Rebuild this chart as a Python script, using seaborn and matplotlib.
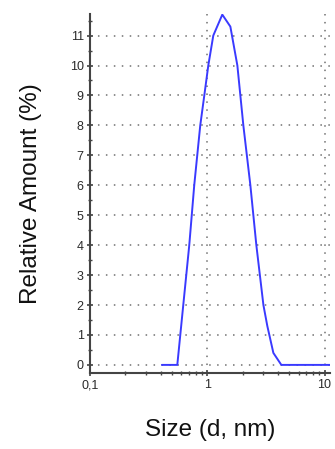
import matplotlib
matplotlib.use("Agg")
import matplotlib.pyplot as plt
import matplotlib.ticker as mticker
import seaborn as sns
import pandas as pd

# Data
size_nm = [0.41, 0.555, 0.624, 0.702, 0.774, 0.871, 0.943, 1.02, 1.125, 1.343,
           1.573, 1.805, 2.03, 2.33, 2.62, 3.01, 3.25, 3.66, 4.28, 11.1]
rel_amount = [0.0, 0.0, 2.0, 4.0, 6.0, 8.0, 9.0, 10.0, 11.0, 11.7,
              11.3, 10.0, 8.0, 6.0, 4.0, 2.0, 1.3, 0.4, 0.0, 0.0]
x_ticks = [0.1, 1, 10]
x_tick_labels = ["0,1", "1", "10"]
y_ticks = list(range(0, 12))
y_tick_labels = [str(v) for v in y_ticks]

df = pd.DataFrame({"size": size_nm, "amount": rel_amount})

sns.set_style("white")
plt.rcParams['font.family'] = ['Liberation Sans', 'DejaVu Sans']

fig = plt.figure(figsize=(3.35, 4.49), dpi=100)
ax = fig.add_axes([0.2687, 0.1693, 0.716, 0.7995])

sns.lineplot(data=df, x="size", y="amount", ax=ax, color="#3a3aff",
             linewidth=1.4, sort=False)

ax.set_xscale("log")
ax.set_xlim(0.1, 11.1)
ax.set_ylim(-0.27, 11.72)

ax.xaxis.set_major_locator(mticker.FixedLocator(x_ticks))
ax.xaxis.set_major_formatter(mticker.FixedFormatter(x_tick_labels))
ax.xaxis.set_minor_locator(mticker.LogLocator(base=10, subs=range(2, 10)))
ax.xaxis.set_minor_formatter(mticker.NullFormatter())
ax.yaxis.set_major_locator(mticker.FixedLocator(y_ticks))
ax.yaxis.set_major_formatter(mticker.FixedFormatter(y_tick_labels))
ax.yaxis.set_minor_locator(mticker.MultipleLocator(0.5))

ax.grid(True, which="major", color="#707070", linestyle=(0, (1, 4.2)), linewidth=1.1)

for s in ["top", "right"]:
    ax.spines[s].set_visible(False)
for s in ["left", "bottom"]:
    ax.spines[s].set_color("#444444")
    ax.spines[s].set_linewidth(1.5)

ax.tick_params(which="major", direction="inout", length=5, width=1.2,
               color="#444444", labelsize=9, labelcolor="#2a2a2a", pad=2)
ax.tick_params(which="minor", direction="inout", length=3.5, width=1.0,
               color="#444444")
ax.tick_params(axis="x", which="both", bottom=True)
ax.tick_params(axis="y", which="both", left=True)

ax.set_xlabel("Size (d, nm)", fontsize=17.5, labelpad=20, color="#111111")
ax.set_ylabel("Relative Amount (%)", fontsize=17.5, labelpad=20, color="#111111")

fig.savefig("out.png", dpi=100)
